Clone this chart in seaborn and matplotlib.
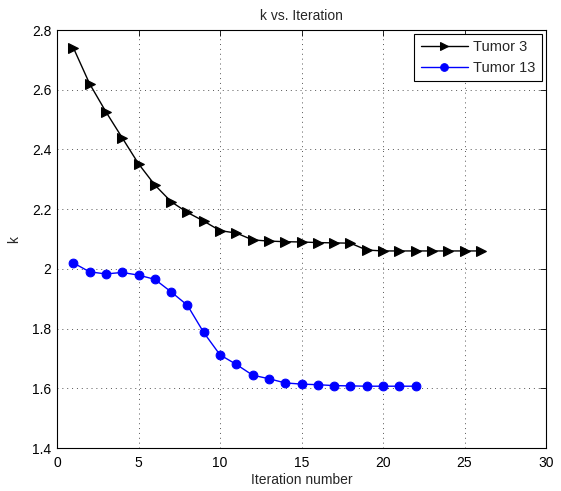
import matplotlib
matplotlib.use("Agg")
import matplotlib.pyplot as plt
import seaborn as sns
import pandas as pd
import numpy as np

iter_t3 = list(range(1, 27))
k_t3 = [2.741, 2.620, 2.526, 2.439, 2.352, 2.281, 2.225, 2.189, 2.160, 2.128,
        2.120, 2.097, 2.093, 2.091, 2.090, 2.088, 2.087, 2.086, 2.063, 2.060,
        2.060, 2.060, 2.060, 2.060, 2.060, 2.060]
iter_t13 = list(range(1, 23))
k_t13 = [2.020, 1.990, 1.983, 1.988, 1.979, 1.965, 1.923, 1.878, 1.787, 1.712,
         1.680, 1.644, 1.632, 1.618, 1.614, 1.612, 1.609, 1.608, 1.607, 1.607,
         1.607, 1.607]
series_names = ["Tumor 3", "Tumor 13"]
x_ticks = [0, 5, 10, 15, 20, 25, 30]
y_ticks = [1.4, 1.6, 1.8, 2.0, 2.2, 2.4, 2.6, 2.8]
y_tick_labels = ["1.4", "1.6", "1.8", "2", "2.2", "2.4", "2.6", "2.8"]

sns.set_style("white")
plt.rcParams['font.family'] = ['Liberation Sans', 'DejaVu Sans']

df = pd.DataFrame({
    "iter": iter_t3 + iter_t13,
    "k": k_t3 + k_t13,
    "series": [series_names[0]] * len(iter_t3) + [series_names[1]] * len(iter_t13),
})

fig = plt.figure(figsize=(5.61, 4.91), dpi=100)
ax = fig.add_axes([57/561, 43/491, 489/561, 418/491])

sns.lineplot(data=df[df.series == series_names[0]], x="iter", y="k", ax=ax,
             color="black", marker=">", markersize=7, markeredgecolor="black",
             linewidth=1.0, label=series_names[0])
sns.lineplot(data=df[df.series == series_names[1]], x="iter", y="k", ax=ax,
             color="blue", marker="o", markersize=6.3, markeredgecolor="blue",
             linewidth=1.0, label=series_names[1])

ax.set_xlim(0, 30)
ax.set_ylim(1.4, 2.8)
ax.set_xticks(x_ticks)
ax.set_yticks(y_ticks)
ax.set_yticklabels(y_tick_labels)
ax.tick_params(direction="in", top=True, right=True, length=4, width=0.6,
               labelsize=10, colors="black", pad=4)
ax.tick_params(axis="x", pad=6)
ax.grid(True, linestyle=(0, (1, 4)), color="#555555", linewidth=0.7)
for s in ax.spines.values():
    s.set_visible(True)
    s.set_color("black")
    s.set_linewidth(0.8)

ax.set_xlabel("Iteration number", fontsize=10, labelpad=2)
ax.set_ylabel("k", fontsize=10, labelpad=8)
ax.set_title("k vs. Iteration", fontsize=10, pad=7)

leg = ax.legend(loc="upper right", fontsize=10.5, frameon=True, fancybox=False,
                edgecolor="black", framealpha=1, borderaxespad=0.25,
                handlelength=3.2, borderpad=0.45, labelspacing=0.45,
                handletextpad=0.4)
leg.get_frame().set_linewidth(0.8)
for h in leg.legend_handles:
    h.set_markersize(5.5)

fig.savefig("out.png", dpi=100)
